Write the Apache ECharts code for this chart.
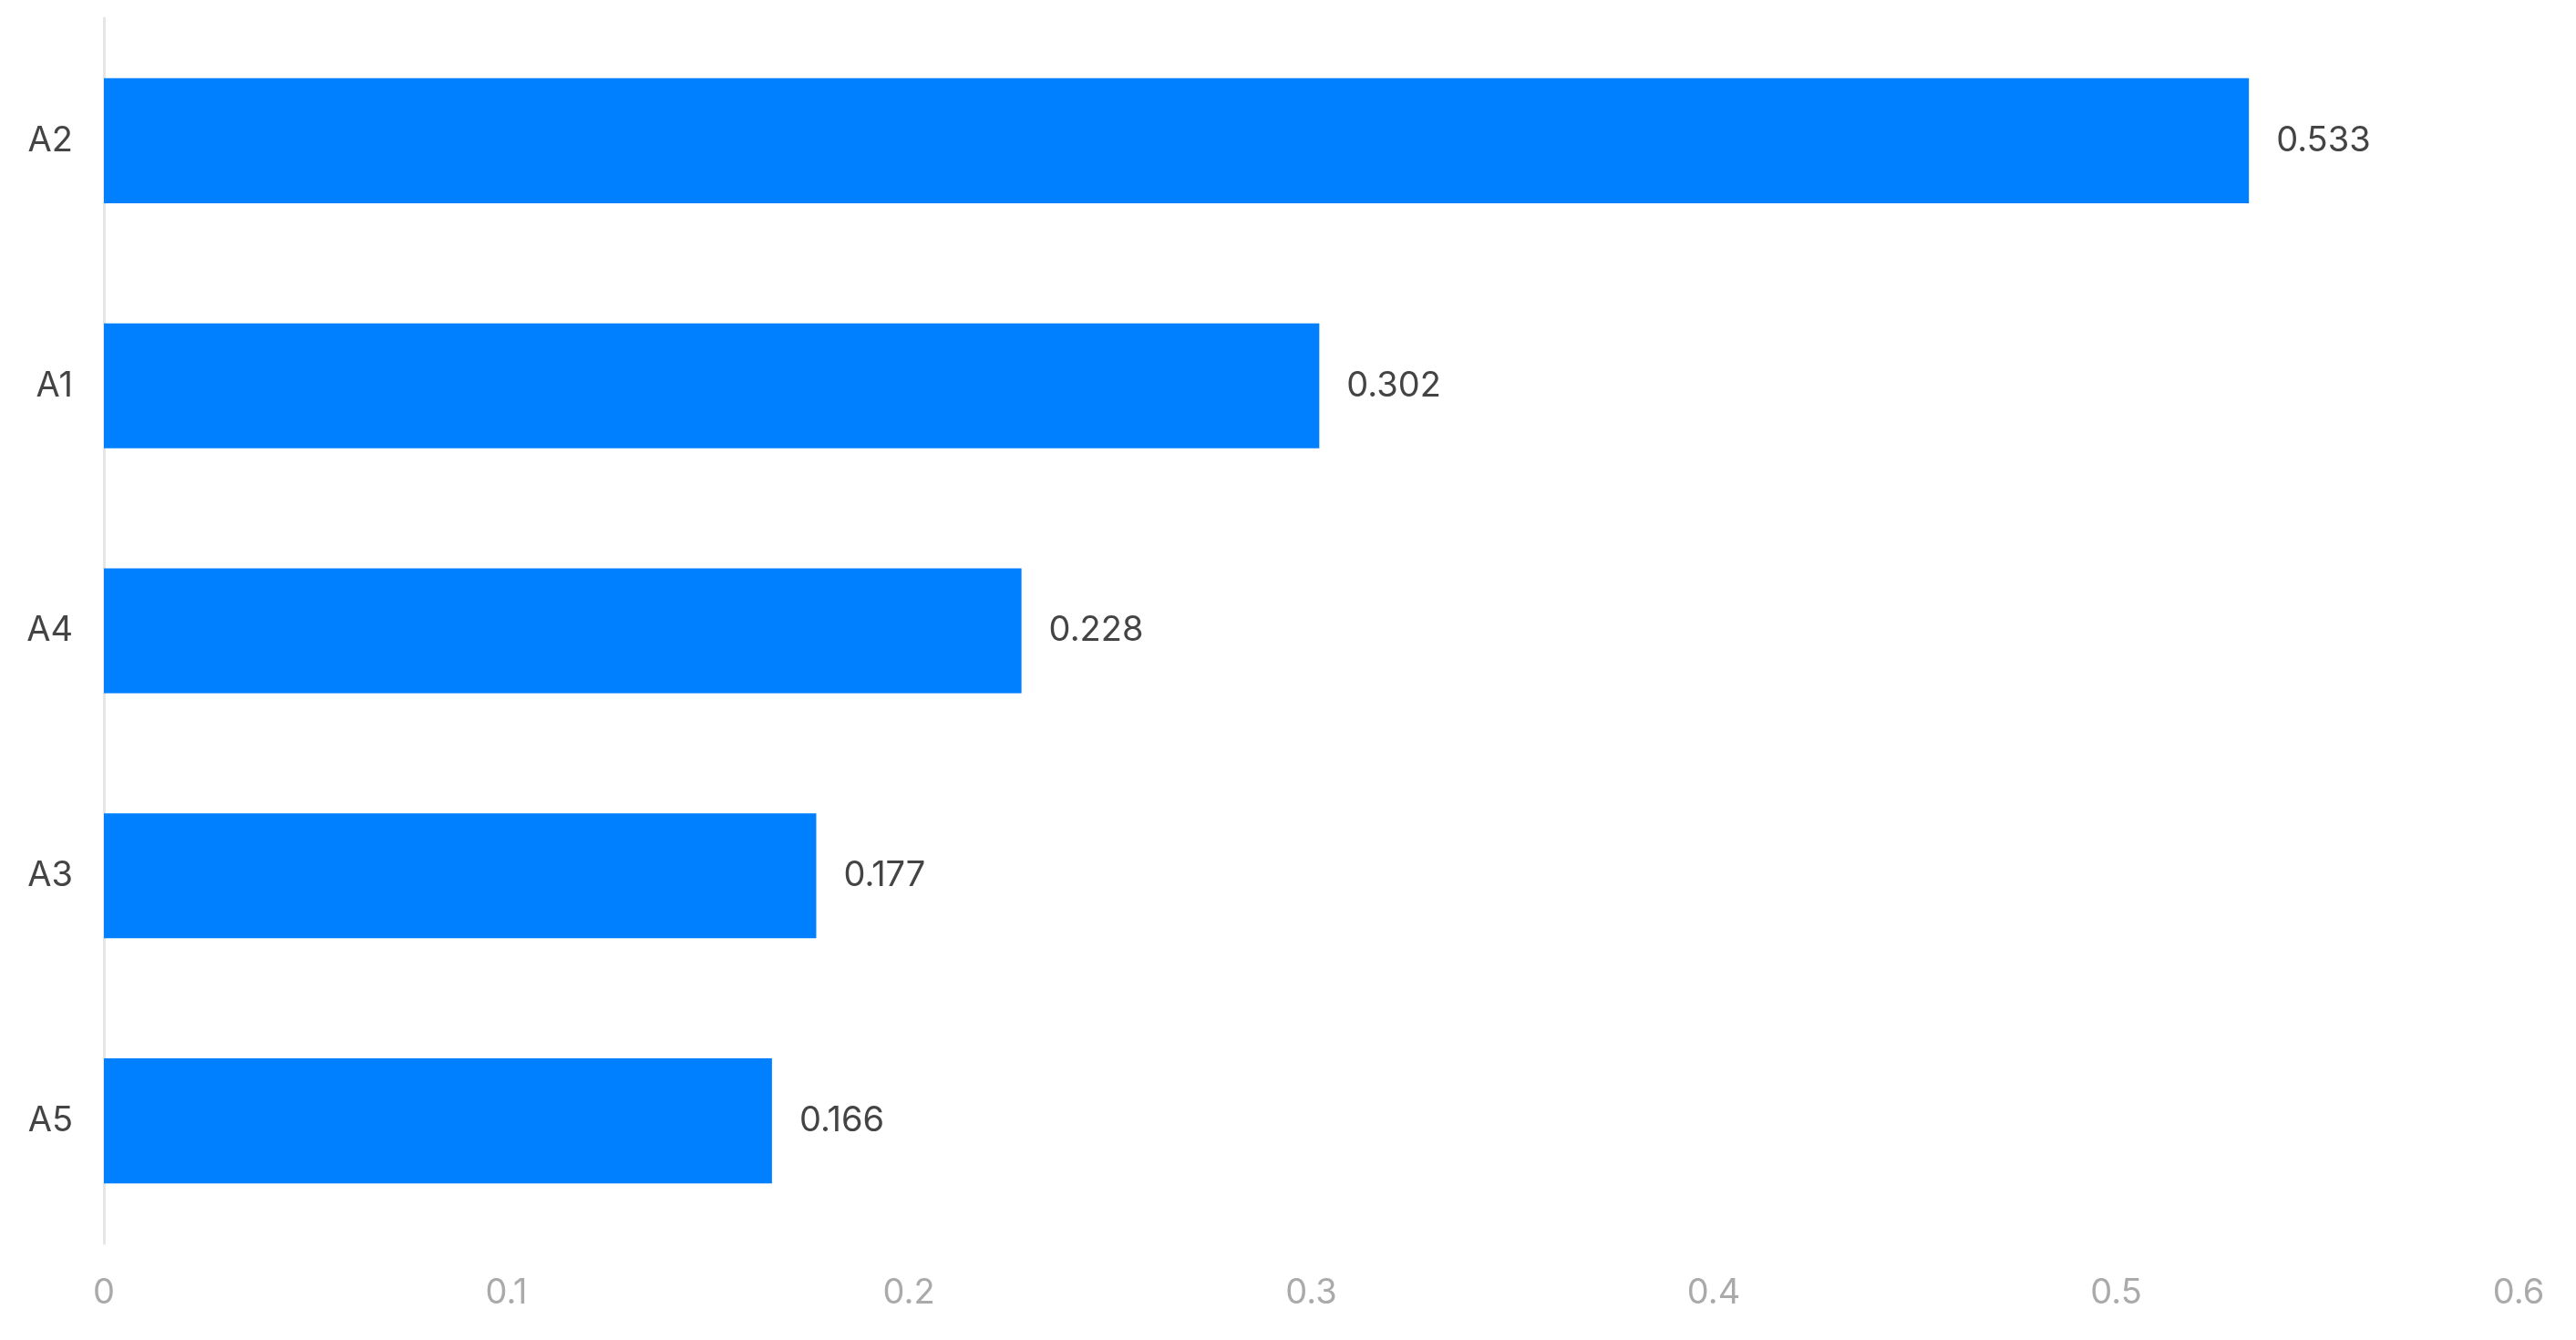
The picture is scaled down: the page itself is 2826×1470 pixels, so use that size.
<!DOCTYPE html>
<html>
<head>
<meta charset="utf-8">
<script src="https://cdn.jsdelivr.net/npm/echarts@6/dist/echarts.min.js"></script>
<style>html,body{margin:0;padding:0;background:#fff}#chart{width:2826px;height:1470px}</style>
</head>
<body>
<div id="chart"></div>
<script>
var categories = ['A5', 'A3', 'A4', 'A1', 'A2'];
var values = [0.166, 0.177, 0.228, 0.302, 0.533];
var xTicks = [0, 0.1, 0.2, 0.3, 0.4, 0.5, 0.6];

var chart = echarts.init(document.getElementById('chart'));
chart.setOption({
    animation: false,
    grid: { left: 114, right: 63, top: 20, bottom: 106, containLabel: false },
    xAxis: {
        type: 'value',
        min: xTicks[0],
        max: xTicks[xTicks.length - 1],
        interval: 0.1,
        axisLine: { show: false },
        axisTick: { show: false },
        splitLine: { show: false },
        axisLabel: { color: '#aaaaaa', fontSize: 38, margin: 36, fontFamily: 'Inter' }
    },
    yAxis: {
        type: 'category',
        data: categories,
        axisLine: { show: true, lineStyle: { color: '#e6e6e6', width: 3 } },
        axisTick: { show: false },
        axisLabel: { color: '#444444', fontSize: 38, margin: 34, fontFamily: 'Inter' }
    },
    series: [{
        type: 'bar',
        data: values,
        barWidth: '51%',
        itemStyle: { color: '#007fff' },
        label: {
            show: true,
            position: 'right',
            distance: 30,
            color: '#444444',
            fontSize: 38,
            fontFamily: 'Inter'
        }
    }]
});
</script>
</body>
</html>
